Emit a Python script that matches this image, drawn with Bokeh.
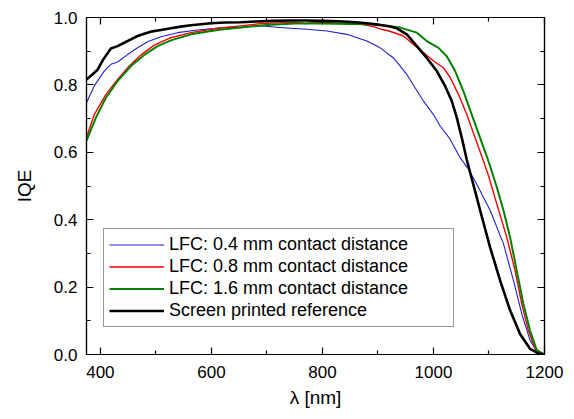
from bokeh.plotting import figure
from bokeh.models import (LinearAxis, FixedTicker, Range1d, Legend, LegendItem,
                          PrintfTickFormatter)
from bokeh.embed import file_html
from bokeh.resources import INLINE

# ---- data ----
wl_04 = [375, 389, 407, 419, 431, 449, 467, 485, 509, 539, 575, 623, 659, 688, 712, 742,
         772, 808, 844, 880, 904, 928, 952, 967, 982, 1000, 1012, 1030, 1048, 1063, 1078,
         1102, 1126, 1144, 1159, 1174, 1187, 1200]
iqe_04 = [0.747, 0.797, 0.841, 0.861, 0.868, 0.890, 0.910, 0.928, 0.943, 0.955, 0.963, 0.970,
          0.972, 0.976, 0.972, 0.968, 0.965, 0.960, 0.950, 0.930, 0.910, 0.880, 0.831, 0.791,
          0.752, 0.712, 0.678, 0.639, 0.584, 0.550, 0.505, 0.428, 0.329, 0.220, 0.121, 0.042,
          0.005, 0.0]

wl_08 = [375, 389, 410, 431, 452, 474, 497, 527, 563, 611, 653, 690, 720, 750, 770, 790, 820,
         850, 870, 892, 904, 920, 946, 964, 982, 1000, 1018, 1030, 1045, 1060, 1075, 1090,
         1099, 1114, 1132, 1147, 1159, 1171, 1183, 1200]
iqe_08 = [0.644, 0.712, 0.772, 0.816, 0.856, 0.890, 0.918, 0.940, 0.955, 0.968, 0.975, 0.982,
          0.984, 0.986, 0.982, 0.986, 0.984, 0.982, 0.980, 0.973, 0.966, 0.960, 0.945, 0.920,
          0.896, 0.871, 0.851, 0.822, 0.772, 0.712, 0.643, 0.574, 0.531, 0.447, 0.348, 0.249,
          0.150, 0.071, 0.017, 0.0]

wl_16 = [375, 392, 410, 431, 455, 479, 503, 527, 563, 611, 653, 700, 750, 800, 850, 880, 904,
         940, 970, 988, 1009, 1024, 1039, 1054, 1069, 1084, 1099, 1114, 1126, 1138, 1150,
         1162, 1174, 1186, 1200]
iqe_16 = [0.635, 0.703, 0.762, 0.811, 0.856, 0.889, 0.915, 0.932, 0.950, 0.963, 0.970, 0.978,
          0.982, 0.982, 0.981, 0.980, 0.978, 0.970, 0.955, 0.930, 0.910, 0.885, 0.841, 0.781,
          0.712, 0.643, 0.574, 0.497, 0.428, 0.348, 0.249, 0.150, 0.071, 0.013, 0.0]

wl_ref = [375, 385, 395, 405, 419, 431, 443, 455, 467, 479, 491, 509, 527, 545, 563, 581, 599,
          625, 653, 680, 710, 740, 770, 800, 830, 860, 880, 904, 920, 934, 952, 970, 988, 1006,
          1021, 1033, 1042, 1051, 1060, 1066, 1075, 1084, 1102, 1120, 1138, 1156, 1174, 1189,
          1200]
iqe_ref = [0.816, 0.830, 0.845, 0.875, 0.908, 0.915, 0.925, 0.935, 0.945, 0.952, 0.958, 0.963,
           0.968, 0.973, 0.977, 0.980, 0.983, 0.985, 0.986, 0.988, 0.990, 0.991, 0.991, 0.990,
           0.989, 0.986, 0.983, 0.978, 0.974, 0.968, 0.950, 0.915, 0.880, 0.841, 0.796, 0.752,
           0.703, 0.643, 0.578, 0.540, 0.485, 0.428, 0.318, 0.220, 0.131, 0.061, 0.017, 0.003,
           0.0]

labels = ["LFC: 0.4 mm contact distance", "LFC: 0.8 mm contact distance",
          "LFC: 1.6 mm contact distance", "Screen printed reference"]

x_major = [400, 600, 800, 1000, 1200]
x_minor = [500, 700, 900, 1100]
y_major = [0.0, 0.2, 0.4, 0.6, 0.8, 1.0]
y_minor = [0.1, 0.3, 0.5, 0.7, 0.9]

FONT = "Liberation Sans"

p = figure(frame_width=458, frame_height=337,
           x_range=Range1d(375, 1200), y_range=Range1d(0, 1.0),
           output_backend="svg", toolbar_location=None,
           min_border_left=86, min_border_top=17, min_border_right=22, min_border_bottom=57,
           x_axis_label="λ [nm]", y_axis_label="IQE")
p.background_fill_color = "white"
p.border_fill_color = "white"
p.outline_line_color = "black"
p.outline_line_width = 1.2
p.xgrid.visible = False
p.ygrid.visible = False


def style(ax, show_labels):
    ax.axis_line_color = "black"
    ax.axis_line_width = 1.2
    ax.major_tick_in = 7
    ax.major_tick_out = 0
    ax.minor_tick_in = 4
    ax.minor_tick_out = 0
    ax.major_tick_line_color = "black"
    ax.minor_tick_line_color = "black"
    ax.major_tick_line_width = 1.2
    ax.minor_tick_line_width = 1.2
    if show_labels:
        ax.major_label_text_font = FONT
        ax.major_label_text_font_size = "17px"
        ax.major_label_text_color = "black"
        ax.axis_label_text_font = FONT
        ax.axis_label_text_font_size = "19px"
        ax.axis_label_text_font_style = "normal"
        ax.axis_label_text_color = "black"
    else:
        ax.major_label_text_font_size = "1px"
        ax.major_label_text_color = None
        ax.major_label_standoff = 0


p.xaxis.ticker = FixedTicker(ticks=x_major, minor_ticks=x_minor)
p.yaxis.ticker = FixedTicker(ticks=y_major, minor_ticks=y_minor)
p.yaxis.formatter = PrintfTickFormatter(format="%.1f")
style(p.xaxis[0], True)
style(p.yaxis[0], True)
p.xaxis.major_label_standoff = 11
p.xaxis.axis_label_standoff = 6
p.yaxis.major_label_standoff = 9
p.yaxis.axis_label_standoff = 16

top = LinearAxis(ticker=FixedTicker(ticks=x_major, minor_ticks=x_minor))
style(top, False)
p.add_layout(top, "above")
right = LinearAxis(ticker=FixedTicker(ticks=y_major, minor_ticks=y_minor))
style(right, False)
p.add_layout(right, "right")

r1 = p.line(wl_04, iqe_04, line_color="#1f1fd0", line_width=1.1, line_join="round")
r2 = p.line(wl_08, iqe_08, line_color="#ff0000", line_width=1.4, line_join="round")
r3 = p.line(wl_16, iqe_16, line_color="#008000", line_width=2.0, line_join="round")
r4 = p.line(wl_ref, iqe_ref, line_color="black", line_width=2.6, line_join="round")

legend = Legend(items=[LegendItem(label=labels[0], renderers=[r1]),
                       LegendItem(label=labels[1], renderers=[r2]),
                       LegendItem(label=labels[2], renderers=[r3]),
                       LegendItem(label=labels[3], renderers=[r4])],
                location=(17, 27))
legend.label_text_font = FONT
legend.label_text_font_size = "18px"
legend.label_text_color = "black"
legend.padding = 5
legend.spacing = 1
legend.margin = 0
legend.glyph_width = 55
legend.glyph_height = 21
legend.label_height = 21
legend.label_standoff = 5
legend.label_width = 279
legend.border_line_color = "#333333"
legend.border_line_width = 1
legend.background_fill_color = "white"
legend.background_fill_alpha = 1.0
p.add_layout(legend, "center")

open("out.html", "w").write(file_html(p, INLINE))
